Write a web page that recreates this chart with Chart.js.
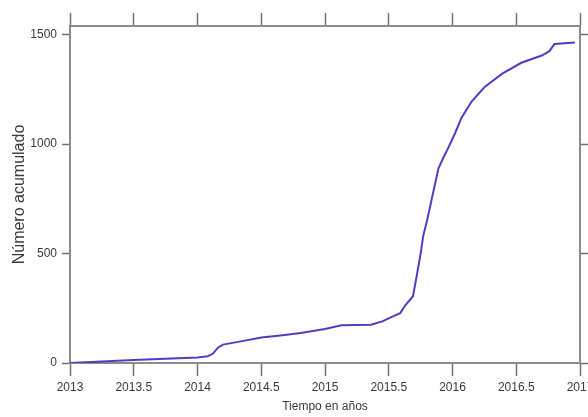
<!DOCTYPE html>
<html>
<head>
<meta charset="utf-8">
<script src="https://cdn.jsdelivr.net/npm/chart.js@4.4.1/dist/chart.umd.min.js"></script>
<style>
  html, body { margin: 0; padding: 0; background: #fff; overflow: hidden; }
  #wrap { width: 600px; height: 417px; }
</style>
</head>
<body>
<div id="wrap"><canvas id="c" width="600" height="417"></canvas></div>
<script>
// Cumulative count over time (decimal years)
const years = [
  2013.00, 2013.25, 2013.50, 2013.75, 2014.00, 2014.08, 2014.12, 2014.16, 2014.20,
  2014.35, 2014.50, 2014.65, 2014.81, 2015.00, 2015.13, 2015.36, 2015.45, 2015.52,
  2015.59, 2015.63, 2015.69, 2015.72, 2015.75, 2015.77, 2015.80, 2015.84, 2015.89,
  2015.93, 2015.96, 2016.02, 2016.07, 2016.15, 2016.25, 2016.39, 2016.54, 2016.70,
  2016.76, 2016.80, 2016.96
];
const cumulative = [
  0, 7, 14, 19, 25, 31, 42, 70, 84,
  100, 117, 126, 137, 155, 172, 175, 190, 210,
  228, 264, 305, 400, 500, 580, 650, 757, 890,
  940, 975, 1050, 1120, 1195, 1260, 1322, 1372, 1405,
  1425, 1458, 1465
];
const xTicks = [2013, 2013.5, 2014, 2014.5, 2015, 2015.5, 2016, 2016.5, 2017];
const yTicks = [0, 500, 1000, 1500];

const AXIS = '#8c8c8c';
const TICK = '#707070';
const TEXT = '#3a3a3a';
const FONT = "'Liberation Sans', Arial, sans-serif";

const points = years.map((t, i) => ({ x: t, y: cumulative[i] }));

const fmtYear = v => Number.isInteger(v) ? String(v) : v.toFixed(1);
const setTicks = list => scale => { scale.ticks = list.map(v => ({ value: v })); };

new Chart(document.getElementById('c'), {
  type: 'line',
  data: {
    datasets: [{
      data: points,
      borderColor: '#4b40c2',
      borderWidth: 2,
      pointRadius: 0,
      tension: 0,
      fill: false
    }]
  },
  options: {
    responsive: false,
    animation: false,
    devicePixelRatio: 1,
    layout: { padding: 0 },
    plugins: { legend: { display: false }, tooltip: { enabled: false } },
    scales: {
      x: {
        type: 'linear', position: 'bottom', min: 2013, max: 2017,
        afterBuildTicks: setTicks(xTicks),
        afterFit: s => { s.height = 54; },
        border: { color: AXIS, width: 2 },
        grid: { drawOnChartArea: false, tickLength: 13, color: TICK, tickWidth: 1.5 },
        ticks: { padding: 4, color: TEXT, maxRotation: 0, autoSkip: false,
                 font: { family: FONT, size: 12 }, callback: v => fmtYear(v) },
        title: { display: true, text: 'Tiempo en años', color: TEXT,
                 font: { family: FONT, size: 12 }, padding: { top: 0, bottom: 3 } }
      },
      xTop: {
        type: 'linear', position: 'top', min: 2013, max: 2017,
        afterBuildTicks: setTicks(xTicks),
        afterFit: s => { s.height = 26; },
        border: { color: AXIS, width: 2 },
        grid: { drawOnChartArea: false, tickLength: 13, color: TICK, tickWidth: 1.5 },
        ticks: { display: false }
      },
      y: {
        type: 'linear', position: 'left', min: 0, max: 1540,
        afterBuildTicks: setTicks(yTicks),
        afterFit: s => { s.width = 70; },
        border: { color: AXIS, width: 2 },
        grid: { drawOnChartArea: false, tickLength: 8, color: TICK, tickWidth: 1.5 },
        ticks: { padding: 5, color: TEXT, autoSkip: false,
                 font: { family: FONT, size: 12 }, callback: v => String(v) },
        title: { display: true, text: 'Número acumulado', color: TEXT,
                 font: { family: FONT, size: 16 }, padding: { top: 10, bottom: 0 } }
      },
      yRight: {
        type: 'linear', position: 'right', min: 0, max: 1540,
        afterBuildTicks: setTicks(yTicks),
        afterFit: s => { s.width = 20; },
        border: { color: AXIS, width: 2 },
        grid: { drawOnChartArea: false, tickLength: 8, color: TICK, tickWidth: 1.5 },
        ticks: { display: false }
      }
    }
  }
});
</script>
</body>
</html>
